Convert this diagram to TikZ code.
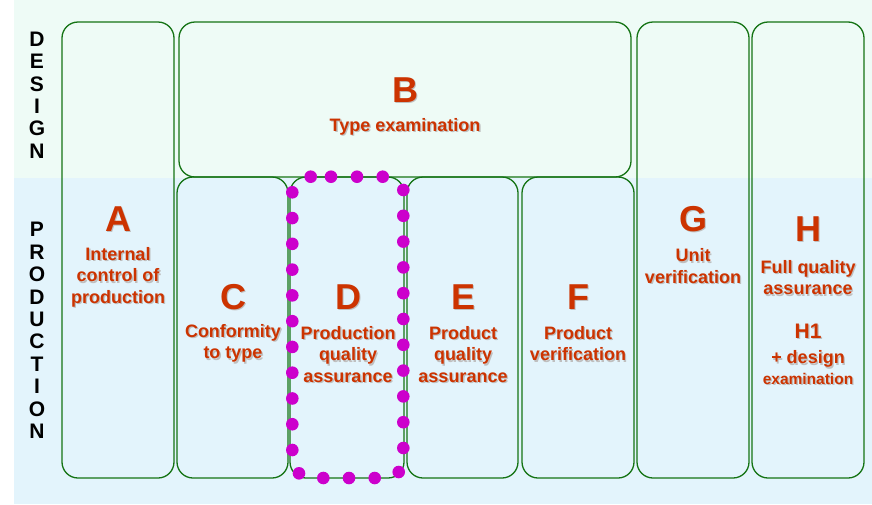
\documentclass[tikz,border=0pt]{standalone}
\usepackage{fontspec}
\setmainfont{Liberation Sans}
\definecolor{txtred}{RGB}{204,51,0}
\definecolor{boxgreen}{RGB}{20,115,20}
\definecolor{dotmag}{RGB}{204,0,204}
\definecolor{bggreen}{RGB}{238,251,246}
\definecolor{bgblue}{RGB}{227,244,252}
\newcommand\shlabel[4]{%
  \node[shadowtxt,#3] (#1s) at (#2) {#4};
  \node[labtxt,#3] (#1) at (#2) {#4};}
\tikzset{
  box/.style={draw=boxgreen, line width=1.3pt, rounded corners=16pt, inner sep=0pt},
  labtxt/.style={text=txtred, align=center, inner sep=0pt},
  shadowtxt/.style={text=black!25, align=center, inner sep=0pt, xshift=1.4pt, yshift=-1.4pt},
  bigf/.style={font=\bfseries\fontsize{36}{40}\selectfont},
  medf/.style={font=\bfseries\fontsize{18}{21.5}\selectfont},
  hf/.style={font=\bfseries\fontsize{21}{24}\selectfont},
  smf/.style={font=\bfseries\fontsize{15.5}{18}\selectfont},
  side/.style={font=\bfseries\fontsize{21}{22.4}\selectfont, align=center, inner sep=0pt, text=black},
  mdot/.style={fill=dotmag},
}
\begin{document}
\begin{tikzpicture}[x=1pt,y=-1pt]
\useasboundingbox (0,0) rectangle (872,504);
% background
\fill[white] (0,0) rectangle (872,504);
\fill[bggreen] (14,0) rectangle (872,178);
\fill[bgblue] (14,178) rectangle (872,504);
% side labels
\node[side] (design) at (37,95) {D\\E\\S\\I\\G\\N};
\node[side] (production) at (37,330.5) {P\\R\\O\\D\\U\\C\\T\\I\\O\\N};
% boxes
\node[box, minimum width=112pt, minimum height=456pt] (boxA) at (118,250) {};
\node[box, minimum width=452pt, minimum height=155pt] (boxB) at (405,99.5) {};
\node[box, minimum width=111pt, minimum height=301pt] (boxC) at (232.5,327.5) {};
\node[box, minimum width=114pt, minimum height=301pt] (boxD) at (347,327.5) {};
\node[box, minimum width=111pt, minimum height=301pt] (boxE) at (462.5,327.5) {};
\node[box, minimum width=112pt, minimum height=301pt] (boxF) at (578,327.5) {};
\node[box, minimum width=112pt, minimum height=456pt] (boxG) at (693,250) {};
\node[box, minimum width=112pt, minimum height=456pt] (boxH) at (808,250) {};
% magenta dots around D
\foreach \x in {310.7,331,357,382.7} \fill[mdot] (\x,176.7) circle (6.3pt);
\foreach \k in {0,...,10} {
  \fill[mdot] (292.3,192.3+25.77*\k) circle (6.3pt);
  \fill[mdot] (403.3,190+25.8*\k) circle (6.3pt);
}
\foreach \x/\y in {299/473.3,323.3/478,349/478,374.7/478,398.7/472} \fill[mdot] (\x,\y) circle (6.3pt);
% labels
\shlabel{lA}{118,219}{bigf}{A}
\shlabel{tA}{118,277}{medf}{Internal\\control of\\production}
\shlabel{lB}{405,90}{bigf}{B}
\shlabel{tB}{405,126.5}{medf}{Type examination}
\shlabel{lC}{233,297}{bigf}{C}
\shlabel{tC}{233,343.5}{medf}{Conformity\\to type}
\shlabel{lD}{348,297}{bigf}{D}
\shlabel{tD}{348,354.5}{medf}{Production\\quality\\assurance}
\shlabel{lE}{463,297}{bigf}{E}
\shlabel{tE}{463,354.5}{medf}{Product\\quality\\assurance}
\shlabel{lF}{578,297}{bigf}{F}
\shlabel{tF}{578,343.5}{medf}{Product\\verification}
\shlabel{lG}{693,219}{bigf}{G}
\shlabel{tG}{693,266}{medf}{Unit\\verification}
\shlabel{lH}{808,229}{bigf}{H}
\shlabel{tH}{808,277.5}{medf}{Full quality\\assurance}
\shlabel{lH1}{808,331}{hf}{H1}
\shlabel{tH1}{808,359}{medf}{+ design}
\shlabel{tH1b}{808,378.5}{smf}{examination}
\end{tikzpicture}
\end{document}
